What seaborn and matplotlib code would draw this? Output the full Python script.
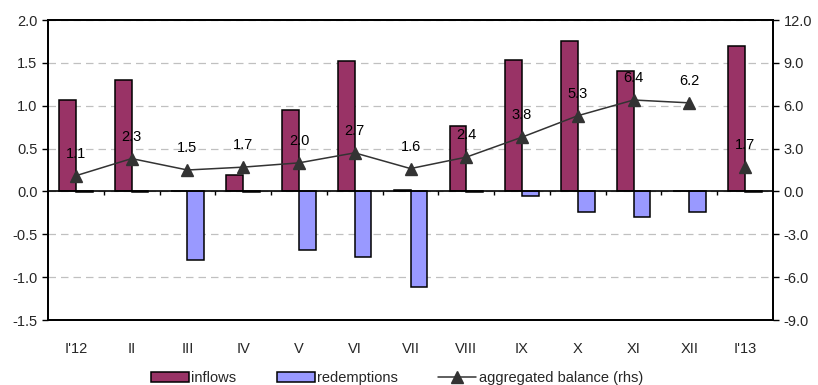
import numpy as np
import pandas as pd
import matplotlib
matplotlib.use("Agg")
import matplotlib.pyplot as plt
from matplotlib.patches import Patch
from matplotlib.lines import Line2D
from matplotlib.ticker import FormatStrFormatter, MultipleLocator
import seaborn as sns

months = ["I'12", "II", "III", "IV", "V", "VI", "VII", "VIII", "IX", "X", "XI", "XII", "I'13"]
inflows = [1.07, 1.30, 0.0, 0.19, 0.95, 1.52, 0.02, 0.76, 1.53, 1.76, 1.40, 0.0, 1.70]
redemptions = [-0.01, -0.01, -0.80, -0.01, -0.68, -0.76, -1.11, -0.01, -0.055, -0.24, -0.30, -0.24, -0.01]
balance = [1.1, 2.3, 1.5, 1.7, 2.0, 2.7, 1.6, 2.4, 3.8, 5.3, 6.4, 6.2, 1.7]

sns.set_style("white")
plt.rcParams["font.family"] = ["Liberation Sans", "DejaVu Sans"]
FS = 10.5

df = pd.DataFrame({
    "month": months * 2,
    "value": inflows + redemptions,
    "series": ["inflows"] * len(months) + ["redemptions"] * len(months),
})
colors = {"inflows": "#993366", "redemptions": "#9999FF"}

fig = plt.figure(figsize=(8.18, 3.85), dpi=100)
ax = fig.add_axes([48 / 818, 1 - 320 / 385, (773 - 48) / 818, 300 / 385])

sns.barplot(data=df, x="month", y="value", hue="series", palette=colors,
            width=0.6, saturation=1, edgecolor="black", linewidth=1.1, ax=ax,
            legend=False, errorbar=None)

ax.set_xlim(-0.5, len(months) - 0.5)
ax.set_ylim(-1.5, 2.0)
ax.yaxis.set_major_locator(MultipleLocator(0.5))
ax.yaxis.set_major_formatter(FormatStrFormatter("%.1f"))
ax.set_axisbelow(True)
ax.grid(axis="y", color="#c0c0c0", linestyle=(0, (6, 4)), linewidth=0.9)
ax.grid(axis="x", visible=False)
ax.set_xlabel("")
ax.set_ylabel("")
ax.tick_params(axis="x", length=0, pad=16, labelsize=FS)
ax.tick_params(axis="y", direction="out", length=4, width=1, labelsize=FS,
               left=True, color="black")

# zero line with category separators
ax.axhline(0, color="black", linewidth=1.2, zorder=3)
bounds = np.arange(len(months) - 1) + 0.5
ax.vlines(bounds, -0.045, 0, color="black", linewidth=1.0, zorder=3)

for s in ax.spines.values():
    s.set_color("black")
    s.set_linewidth(1.3)

ax2 = ax.twinx()
ax2.set_ylim(-9, 12)
ax2.yaxis.set_major_locator(MultipleLocator(3))
ax2.yaxis.set_major_formatter(FormatStrFormatter("%.1f"))
ax2.tick_params(axis="y", direction="out", length=4, width=1, labelsize=FS,
                right=True, color="black")
ax2.grid(False)
for s in ax2.spines.values():
    s.set_color("black")
    s.set_linewidth(1.3)

xs = np.arange(len(months))
ax2.plot(xs[:12], balance[:12], color="#333333", linewidth=1.1, zorder=4)
ax2.plot(xs, balance, linestyle="none", marker="^", markersize=8,
         color="#333333", zorder=5)
for x, v in zip(xs, balance):
    ax2.annotate(f"{v:.1f}", (x, v), xytext=(0, 13), textcoords="offset points",
                 ha="center", va="baseline", fontsize=FS, color="black")

handles = [
    Patch(facecolor=colors["inflows"], edgecolor="black", linewidth=1.1),
    Patch(facecolor=colors["redemptions"], edgecolor="black", linewidth=1.1),
    Line2D([0], [0], color="#333333", linewidth=1.1, marker="^", markersize=8),
]
fig.legend(handles, ["inflows", "redemptions", "aggregated balance (rhs)"],
           loc="center", bbox_to_anchor=(0.485, 0.018), ncol=3, frameon=False,
           fontsize=FS, handlelength=2.6, handleheight=0.7, handletextpad=0.15,
           columnspacing=2.8)

fig.savefig("out.png", dpi=100)
